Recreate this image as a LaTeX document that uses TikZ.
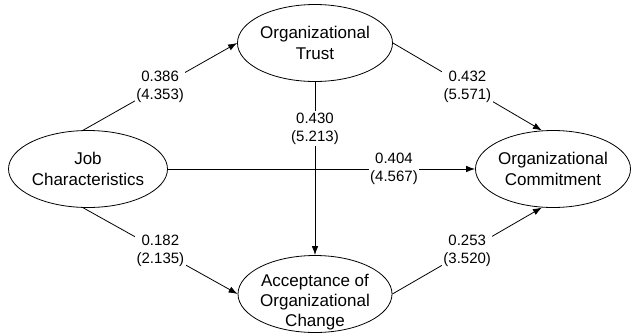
\documentclass[tikz,border=0pt]{standalone}
\usepackage{fontspec}
\setmainfont{Liberation Sans}
\usetikzlibrary{shapes.geometric, arrows.meta}

\begin{document}
\begin{tikzpicture}[x=1pt, y=-1pt,
    construct/.style={ellipse, draw, line width=0.8pt, minimum width=152pt, minimum height=77pt,
      inner sep=0pt, align=center, font=\fontsize{17}{21}\selectfont},
    effect/.style={-{Latex[length=9pt, width=6.5pt]}, line width=0.8pt},
    coef/.style={fill=white, inner sep=1.5pt, align=center, font=\fontsize{15}{18}\selectfont}]
    \useasboundingbox (0,0) rectangle (632,333);
    %sem constructs
    \node[construct] at (315, 43) (Trust){ Organizational\\Trust };
    \node[construct] at (88, 169) (Job){ Job\\Characteristics };
    \node[construct] at (553, 169) (Commit){ Organizational\\Commitment };
    \node[construct, minimum width=154pt] at (315, 294) (Accept){};
    \node[align=center, font=\fontsize{17}{20}\selectfont] at (315, 302) (AcceptText){ Acceptance of\\Organizational\\Change };
    %paths
    \draw[effect] (Job.97) -- node[coef]{ 0.386\\(4.353) }(Trust.west);
    \draw[effect] (Job.263) -- node[coef]{ 0.182\\(2.135) }(Accept.west);
    \draw[effect] (Trust.east) -- node[coef]{ 0.432\\(5.571) }(Commit.106);
    \draw[effect] (Accept.east) -- node[coef]{ 0.253\\(3.520) }(Commit.254);
    \draw[effect] (Trust.south) -- node[coef, pos=0.27]{ 0.430\\(5.213) }(Accept.north);
    \draw[effect] (Job.east) -- node[coef, pos=0.736]{ 0.404\\(4.567) }(Commit.west);
  \end{tikzpicture}
\end{document}
